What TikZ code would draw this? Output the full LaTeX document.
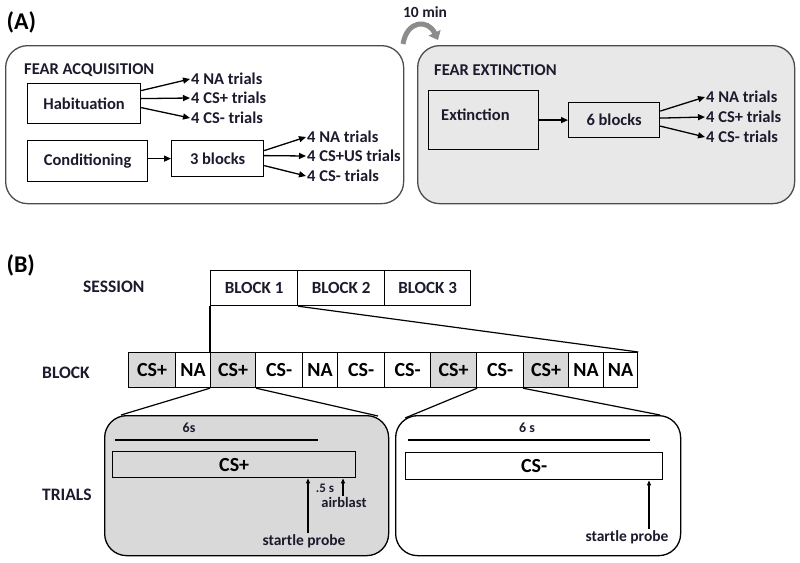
\documentclass[tikz,border=0pt]{standalone}
\usepackage{fontspec}
\setmainfont{Carlito}
\usetikzlibrary{arrows.meta,positioning}

\definecolor{panelgray}{RGB}{232,232,232}
\definecolor{cellgray}{RGB}{217,217,217}
\definecolor{inkdark}{RGB}{30,25,45}

\begin{document}
\begin{tikzpicture}[x=1pt,y=-1pt,
	font=\bfseries\fontsize{16.5}{18}\selectfont, text=inkdark,
	box/.style={draw, line width=1.2pt, anchor=north west, inner sep=0pt},
	panel/.style={draw=black!70, line width=1.3pt, rounded corners=22pt, anchor=north west, inner sep=0pt},
	arr/.style={line width=1.3pt, -{Triangle[length=7pt,width=6pt]}},
	thin arr/.style={line width=1.2pt, -{Triangle[length=5pt,width=4pt]}},
	txt/.style={anchor=west, inner sep=1pt},
	head/.style={anchor=west, inner sep=1pt, font=\bfseries\fontsize{17.5}{20}\selectfont},
	cell/.style={draw, line width=1.2pt, anchor=north west, inner sep=0pt, minimum height=35pt,
		font=\bfseries\fontsize{20}{24}\selectfont, text=black},
	bar/.style={draw, line width=1.4pt, anchor=north west, inner sep=0pt,
		font=\bfseries\fontsize{20}{24}\selectfont, text=black},
	small/.style={font=\bfseries\fontsize{14}{16}\selectfont},
	probe/.style={font=\bfseries\fontsize{15.5}{18}\selectfont, inner sep=1pt},
]
\useasboundingbox (0,0) rectangle (800,562);

% ---------------- (A) ----------------
\node[anchor=west, font=\bfseries\fontsize{24}{28}\selectfont, text=black] (labA) at (3,22) {(A)};
\node[anchor=center, font=\bfseries\fontsize{15.5}{18}\selectfont] (gap) at (425,12) {10 min}; % pause between sessions
\draw[line width=5pt, black!45, -{Triangle[length=8pt,width=13pt]}] (403,44) .. controls (407,20) and (428,19) .. (438,40);

\node[panel, minimum width=398pt, minimum height=158pt] (acq) at (5,45) {}; % acquisition panel
\node[panel, fill=panelgray, minimum width=377pt, minimum height=158pt] (ext) at (417,45) {}; % extinction panel

% Fear acquisition
\node[txt] (acqtitle) at (23,70) {FEAR ACQUISITION};
\node[box, minimum width=113pt, minimum height=40pt] (hab) at (27,83) {Habituation};
\node[txt] (habNA) at (190,79) {4 NA trials};
\node[txt] (habCSp) at (190,98) {4 CS+ trials};
\node[txt] (habCSm) at (190,118) {4 CS- trials};
\draw[arr] ([yshift=13pt]hab.east) -- (habNA.west);
\draw[arr] ([yshift=5pt]hab.east) -- (habCSp.west);
\draw[arr] ([yshift=-4pt]hab.east) -- (habCSm.west);

\node[box, minimum width=120pt, minimum height=41pt] (cond) at (27,140) {Conditioning};
\node[box, minimum width=92pt, minimum height=36pt] (blk3) at (171,140) {3 blocks};
\draw[arr] (cond.east |- blk3.west) -- (blk3.west);
\node[txt] (conNA) at (306,137) {4 NA trials};
\node[txt] (conUS) at (306,156) {4 CS+US trials};
\node[txt] (conCSm) at (306,176) {4 CS- trials};
\draw[arr] ([yshift=8pt]blk3.east) -- (conNA.west);
\draw[arr] ([yshift=3pt]blk3.east) -- (conUS.west);
\draw[arr] ([yshift=-7pt]blk3.east) -- (conCSm.west);

% Fear extinction
\node[txt] (exttitle) at (433,70) {FEAR EXTINCTION};
\node[box, minimum width=110pt, minimum height=59pt] (extbox) at (428,90) {};
\node[txt] (extlabel) at (440,115) {Extinction};
\node[box, minimum width=91pt, minimum height=35pt] (blk6) at (568,102) {6 blocks};
\draw[arr] (extbox.east |- blk6.west) -- (blk6.west);
\node[txt] (extNA) at (705,97) {4 NA trials};
\node[txt] (extCSp) at (705,117) {4 CS+ trials};
\node[txt] (extCSm) at (705,137) {4 CS- trials};
\draw[arr] ([yshift=9pt]blk6.east) -- (extNA.west);
\draw[arr] ([yshift=2pt]blk6.east) -- (extCSp.west);
\draw[arr] ([yshift=-6pt]blk6.east) -- (extCSm.west);

% ---------------- (B) ----------------
\node[anchor=west, font=\bfseries\fontsize{24}{28}\selectfont, text=black] (labB) at (3,265) {(B)};
\node[head] (session) at (82,287) {SESSION};
\node[head] (block) at (41,373) {BLOCK};
\node[head] (trials) at (41,495) {TRIALS};

% session row
\node[box, minimum width=87pt, minimum height=35pt, font=\bfseries\fontsize{17}{20}\selectfont] (b1) at (210,270) {BLOCK 1};
\node[box, minimum width=87pt, minimum height=35pt, font=\bfseries\fontsize{17}{20}\selectfont] (b2) at (297,270) {BLOCK 2};
\node[box, minimum width=86pt, minimum height=35pt, font=\bfseries\fontsize{17}{20}\selectfont] (b3) at (384,270) {BLOCK 3};

% block row
\foreach \i/\x/\w/\lab/\f in {1/128/47/CS+/cellgray, 2/175/35/NA/white, 3/210/45/CS+/cellgray,
	4/255/47/CS-/white, 5/302/35/NA/white, 6/337/47/CS-/white, 7/384/46/CS-/white,
	8/430/46/CS+/cellgray, 9/476/47/CS-/white, 10/523/45/CS+/cellgray, 11/568/35/NA/white,
	12/603/34/NA/white}{
	\node[cell, fill=\f, minimum width=\w pt] (c\i) at (\x,352) {\lab};
}
\draw[line width=1.2pt] (b1.south west) -- (c3.north west);
\draw[line width=1.2pt] (b1.south east) -- (c12.north east);

% trial panels
\node[panel, draw=black, fill=cellgray, minimum width=284pt, minimum height=140pt] (tp1) at (104,415) {};
\node[panel, draw=black, fill=white, minimum width=285pt, minimum height=140pt] (tp2) at (395,415) {};
\coordinate (tp1l) at (121,415);
\coordinate (tp1r) at (378,416);
\coordinate (tp2l) at (405,418);
\coordinate (tp2r) at (660,415);
\draw[line width=1.2pt] (c3.south west) -- (tp1l);
\draw[line width=1.2pt] (c3.south east) -- (tp1r);
\draw[line width=1.2pt] (c8.south east) -- (tp2l);
\draw[line width=1.2pt] (c10.south west) -- (tp2r);

% CS+ trial
\node[small] (dur1) at (189,428) {6s};
\coordinate (d1a) at (115,440);
\coordinate (d1b) at (318,440);
\draw[line width=1.4pt] (d1a) -- (d1b);
\node[bar, fill=cellgray, minimum width=243pt, minimum height=26pt] (cs1) at (112,451) {CS+};
\node[probe] (sp1) at (304,541) {startle probe};
\draw[thin arr] ([xshift=4pt]sp1.north) -- ([xshift=4pt]sp1.north |- cs1.south);
\node[font=\bfseries\fontsize{13}{15}\selectfont, inner sep=1pt] (half) at (325,488) {.5 s};
\node[font=\bfseries\fontsize{14.5}{16}\selectfont, inner sep=1pt] (ab1) at (344,502) {airblast};
\draw[thin arr] ([xshift=-1pt]ab1.north) -- ([xshift=-1pt]ab1.north |- cs1.south);

% CS- trial
\node[small] (dur2) at (527,428) {6 s};
\coordinate (d2a) at (408,440);
\coordinate (d2b) at (650,440);
\draw[line width=1.4pt] (d2a) -- (d2b);
\node[bar, fill=white, minimum width=257pt, minimum height=27pt] (cs2) at (405,452) {CS-};
\node[probe] (sp2) at (627,537) {startle probe};
\draw[thin arr] ([xshift=22pt]sp2.north) -- ([xshift=22pt]sp2.north |- cs2.south);
\end{tikzpicture}
\end{document}
